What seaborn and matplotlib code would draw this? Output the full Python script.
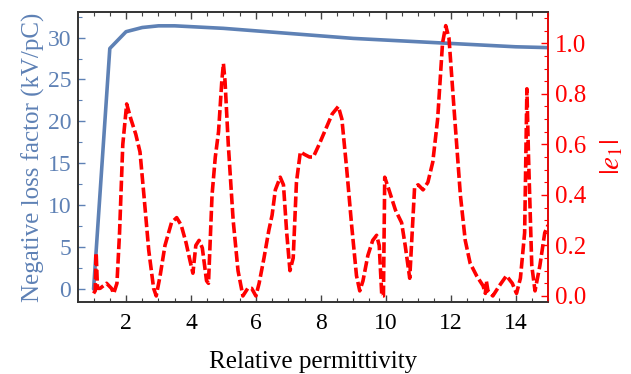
import numpy as np
import pandas as pd
import matplotlib
matplotlib.use("Agg")
import matplotlib.pyplot as plt
import seaborn as sns
from matplotlib.ticker import MultipleLocator

# Data
perm_loss = [1.0, 1.5, 2.0, 2.5, 3.0, 3.5, 4.0, 5.0, 6.0, 7.0, 8.0, 9.0, 10.0, 11.0, 12.0, 13.0, 14.0, 15.0]
loss_factor = [0.0, 28.7, 30.7, 31.2, 31.4, 31.4, 31.3, 31.1, 30.8, 30.5, 30.2, 29.9, 29.7, 29.5, 29.3, 29.1, 28.9, 28.8]

perm_e1 = [1.0, 1.05, 1.08, 1.12, 1.2, 1.4, 1.55, 1.62, 1.72, 1.8, 1.9, 2.02, 2.15, 2.3, 2.43, 2.55, 2.7, 2.85, 2.93,
           3.05, 3.2, 3.4, 3.56, 3.7, 3.85, 3.97, 4.06, 4.15, 4.25, 4.35, 4.48, 4.54, 4.65, 4.75, 4.85, 4.95, 5.0,
           5.05, 5.15, 5.3, 5.45, 5.6, 5.75, 5.87, 6.0, 6.1, 6.25, 6.4, 6.5, 6.6, 6.75, 6.85, 6.95, 7.05, 7.15,
           7.25, 7.37, 7.5, 7.65, 7.77, 7.95, 8.15, 8.35, 8.54, 8.65, 8.8, 8.95, 9.1, 9.2, 9.3, 9.45, 9.6, 9.72,
           9.8, 9.88, 9.93, 9.97, 10.1, 10.3, 10.49, 10.6, 10.74, 10.89, 11.0, 11.15, 11.3, 11.45, 11.6, 11.75,
           11.85, 11.95, 12.1, 12.3, 12.45, 12.6, 12.8, 13.0, 13.07, 13.1, 13.15, 13.3, 13.5, 13.72, 13.9, 14.03,
           14.15, 14.28, 14.35, 14.4, 14.5, 14.6, 14.75, 14.9, 15.0]
e1_abs = [0.01, 0.02, 0.17, 0.03, 0.03, 0.05, 0.03, 0.01, 0.05, 0.25, 0.6, 0.76, 0.70, 0.64, 0.57, 0.40, 0.18, 0.03, 0.0,
          0.08, 0.2, 0.29, 0.31, 0.28, 0.21, 0.14, 0.09, 0.20, 0.22, 0.19, 0.06, 0.05, 0.4, 0.55, 0.65, 0.85, 0.92,
          0.85, 0.6, 0.3, 0.1, 0.0, 0.03, 0.03, 0.0, 0.05, 0.15, 0.26, 0.32, 0.42, 0.47, 0.44, 0.25, 0.10, 0.15,
          0.45, 0.57, 0.56, 0.55, 0.55, 0.6, 0.66, 0.72, 0.75, 0.70, 0.5, 0.28, 0.08, 0.02, 0.06, 0.16, 0.22, 0.24,
          0.2, 0.0, 0.0, 0.47, 0.42, 0.34, 0.29, 0.2, 0.07, 0.43, 0.44, 0.42, 0.45, 0.53, 0.7, 1.0,
          1.07, 1.02, 0.75, 0.4, 0.22, 0.13, 0.08, 0.04, 0.01, 0.06, 0.02, 0.0, 0.04, 0.08, 0.05, 0.01,
          0.07, 0.25, 0.82, 0.55, 0.12, 0.02, 0.12, 0.25, 0.28]

xticks = [2, 4, 6, 8, 10, 12, 14]
yticks_left = [0, 5, 10, 15, 20, 25, 30]
yticks_right = [0.0, 0.2, 0.4, 0.6, 0.8, 1.0]

BLUE = "#5E81B5"
RED = "#FF0000"

sns.set_style("white")
plt.rcParams['font.family'] = ['Liberation Serif', 'DejaVu Serif']
plt.rcParams['mathtext.fontset'] = 'stix'

fig = plt.figure(figsize=(6.31, 3.74), dpi=100)
ax = fig.add_axes([78/631, 1 - 302/374, (548-78)/631, (302-12)/374])
ax2 = ax.twinx()

df1 = pd.DataFrame({"x": perm_loss, "y": loss_factor})
df2 = pd.DataFrame({"x": perm_e1, "y": e1_abs})

sns.lineplot(data=df1, x="x", y="y", ax=ax, color=BLUE, linewidth=2.6)
sns.lineplot(data=df2, x="x", y="y", ax=ax2, color=RED, linewidth=2.6, linestyle=(0, (3.0, 1.0)))

ax.set_xlim(0.52, 15.0)
ax.set_ylim(-1.55, 33.05)
ax2.set_ylim(-0.024, 1.124)

ax.set_xticks(xticks)
ax.set_xticklabels([str(t) for t in xticks])
ax.set_yticks(yticks_left)
ax.set_yticklabels([str(t) for t in yticks_left])
ax2.set_yticks(yticks_right)
ax2.set_yticklabels([f"{t:.1f}" for t in yticks_right])
ax.xaxis.set_minor_locator(MultipleLocator(0.5))
ax.yaxis.set_minor_locator(MultipleLocator(2.5))
ax2.yaxis.set_minor_locator(MultipleLocator(0.05))

ax.set_xlabel("Relative permittivity", fontsize=18, color="black", labelpad=12)
ax.set_ylabel("Negative loss factor (kV/pC)", fontsize=18, color=BLUE, labelpad=2)
ax2.set_ylabel(r"$|e_1|$", fontsize=21, color=RED, labelpad=9)

ax.tick_params(axis='x', which='both', direction='in', top=True, bottom=True, colors='#444444',
               labelcolor='black', labelsize=17, pad=8)
ax.tick_params(axis='x', which='major', length=5, width=1)
ax.tick_params(axis='x', which='minor', length=3, width=0.8)
ax.tick_params(axis='y', which='both', direction='in', left=True, colors=BLUE, labelcolor=BLUE, labelsize=17, pad=5)
ax.tick_params(axis='y', which='major', length=5, width=1)
ax.tick_params(axis='y', which='minor', length=3, width=0.8)
ax2.tick_params(axis='y', which='both', direction='in', right=True, colors=RED, labelcolor=RED, labelsize=18, pad=5)
ax2.tick_params(axis='y', which='major', length=5, width=1)
ax2.tick_params(axis='y', which='minor', length=3, width=0.8)

for a in (ax, ax2):
    for s in a.spines.values():
        s.set_visible(True)
        s.set_linewidth(1.2)
        s.set_color('#333333')
ax2.spines['right'].set_color(RED)
ax.spines['left'].set_color('#333333')

fig.savefig("out.png", dpi=100)
